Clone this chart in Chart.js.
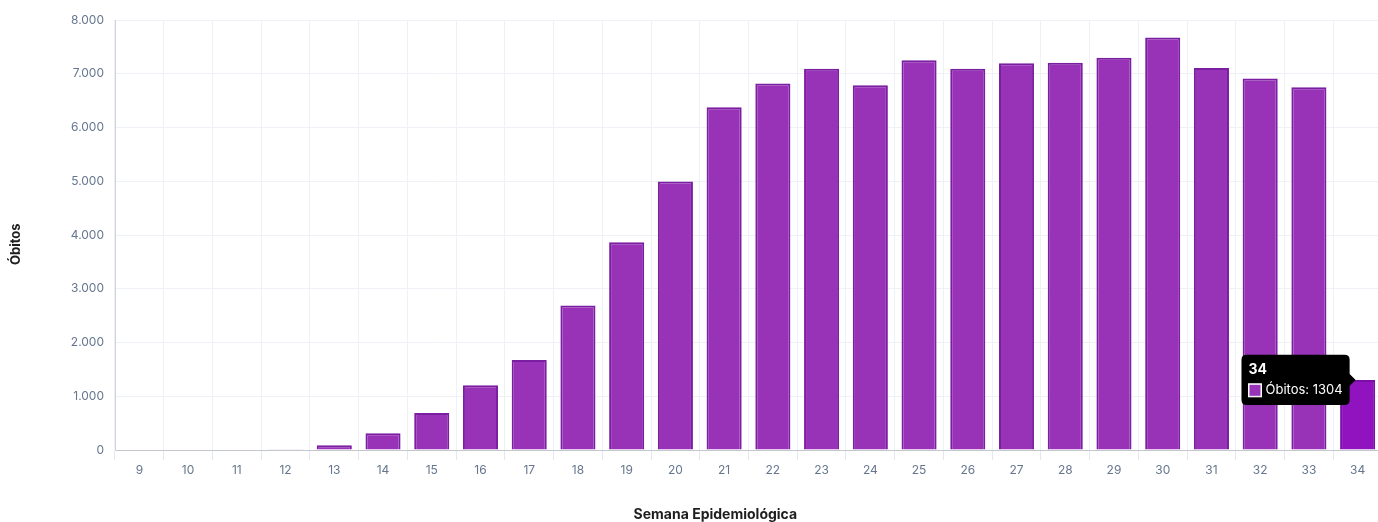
<!DOCTYPE html>
<html>
<head>
<meta charset="utf-8">
<script src="https://cdn.jsdelivr.net/npm/chart.js@4/dist/chart.umd.min.js"></script>
<style>
    html, body { margin: 0; padding: 0; background: #fff; overflow: hidden; }
    #wrap { width: 1382px; height: 522px; position: relative; }
</style>
</head>
<body>
<div id="wrap"><canvas id="chart"></canvas></div>
<script>
const weeks = ['9', '10', '11', '12', '13', '14', '15', '16', '17', '18', '19', '20', '21',
    '22', '23', '24', '25', '26', '27', '28', '29', '30', '31', '32', '33', '34'];
const deaths = [0, 0, 0, 12, 90, 310, 690, 1205, 1675, 2690, 3865, 4995, 6375,
    6820, 7095, 6785, 7250, 7095, 7195, 7205, 7300, 7675, 7105, 6910, 6750, 1304];
const yTicksMax = 8000;
const yTicksStep = 1000;
const seriesLabel = 'Óbitos';
const activeIndex = 25;

const barColor = '#9833b7';
const barBorder = '#7b1fa2';
const tickColor = '#65768e';
const gridColor = '#eef2f6';

let formatThousands = (value) => {
    return value.toString().replace(/\B(?=(\d{3})+(?!\d))/g, '.');
}

// titles in the original sit off the axis centre, pad them with no-break spaces
let padEnd = (text, n) => text + '\u00a0'.repeat(n);

let context = document.getElementById('chart').getContext('2d');
let chart = new Chart(context, {
    type: 'bar',
    data: {
        labels: weeks,
        datasets: [{
            label: seriesLabel,
            data: deaths,
            backgroundColor: barColor,
            borderColor: barBorder,
            borderWidth: 2,
            hoverBackgroundColor: '#9112bf',
            hoverBorderColor: '#7a0fa8'
        }]
    },
    options: {
        responsive: true,
        maintainAspectRatio: false,
        animation: false,
        layout: {
            padding: { top: 20, left: 0, right: 0, bottom: 0 }
        },
        plugins: {
            legend: { display: false },
            tooltip: {
                backgroundColor: '#000',
                cornerRadius: 5,
                caretSize: 6,
                padding: 7,
                titleFont: { family: 'Inter', size: 14, weight: 'bold' },
                bodyFont: { family: 'Inter', size: 13 },
                titleMarginBottom: 4,
                boxPadding: 2,
                callbacks: {
                    label: (item) => seriesLabel + ': ' + item.raw,
                    labelColor: () => ({ borderColor: '#fff', backgroundColor: barColor, borderWidth: 1 })
                }
            }
        },
        scales: {
            x: {
                afterFit: (scale) => { scale.height = 72; },
                grid: {
                    color: gridColor,
                    tickColor: '#e3e8ee',
                    tickLength: 10,
                    offset: true
                },
                border: { color: '#c4c8ce' },
                ticks: {
                    color: tickColor,
                    padding: 3,
                    font: { family: 'Inter', size: 12 }
                },
                title: {
                    display: true,
                    text: padEnd('Semana Epidemiológica', 20),
                    color: '#1e1e1e',
                    font: { family: 'Inter', size: 14, weight: 'bold', lineHeight: 1.1 },
                    padding: { top: 4, bottom: 0 }
                }
            },
            y: {
                min: 0,
                max: yTicksMax,
                afterFit: (scale) => { scale.width = 115; },
                grid: {
                    color: gridColor,
                    tickColor: 'rgba(0,0,0,0)',
                    tickLength: 8
                },
                border: { color: '#cfd3d8' },
                ticks: {
                    stepSize: yTicksStep,
                    color: tickColor,
                    padding: 3,
                    font: { family: 'Inter', size: 12 },
                    callback: (value) => formatThousands(value)
                },
                title: {
                    display: true,
                    text: padEnd('Óbitos', 6),
                    color: '#1e1e1e',
                    font: { family: 'Inter', size: 13, weight: 'bold' },
                    padding: { top: 8, bottom: 4 }
                }
            }
        }
    }
});

// show the hovered bar with its tooltip, as in the screenshot
let active = [{ datasetIndex: 0, index: activeIndex }];
let bar = chart.getDatasetMeta(0).data[activeIndex];
chart.setActiveElements(active);
chart.tooltip.setActiveElements(active, { x: bar.x, y: bar.y });
chart.update();
</script>
</body>
</html>
